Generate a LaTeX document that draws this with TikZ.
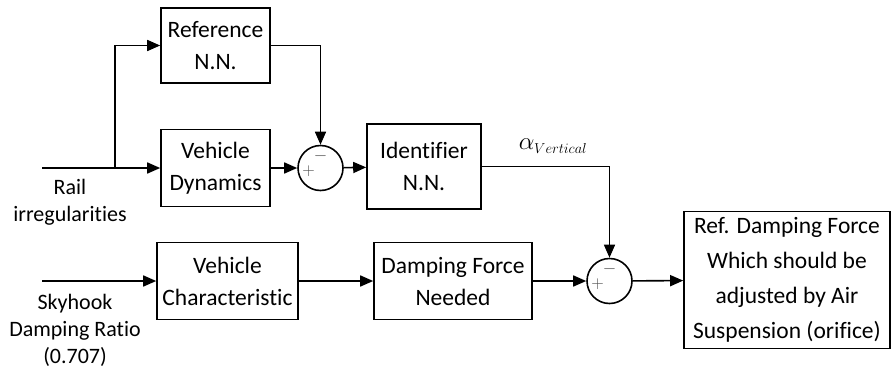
\documentclass[tikz,border=0pt]{standalone}
\usepackage{fontspec}
\setmainfont[Ligatures=NoCommon]{Carlito}
\usepackage{tikz}
\usetikzlibrary{arrows.meta,positioning,calc}

\begin{document}
\begin{tikzpicture}[x=1pt,y=-1pt,line width=1.6pt,>={Triangle[length=13pt,width=11pt]},
  every node/.style={font=\fontsize{23.5}{32}\selectfont}]
\tikzstyle{box}=[draw,rectangle,line width=1.6pt,inner sep=2pt,align=center]
\tikzstyle{sumnode}=[draw,circle,line width=1.6pt,minimum size=45pt,inner sep=0pt]
\tikzstyle{sign}=[text=black!70,inner sep=0pt,font=\fontsize{17}{17}\selectfont]
\tikzstyle{lbl}=[align=center,inner sep=0pt,font=\fontsize{22}{27}\selectfont]
\useasboundingbox (0,0) rectangle (893,367);

% upper branch
\node[box,minimum width=109pt,minimum height=75pt] (refnn) at (215.5,45.5) {Reference\\N.N.};
\node[box,minimum width=109pt,minimum height=77pt] (vdyn) at (215.5,168) {Vehicle\\Dynamics};
\node[sumnode] (sum1) at (320.5,168) {};
\node[sign] (sum1m) at ($(sum1)+(0,-12)$) {$-$};
\node[sign] (sum1p) at ($(sum1)+(-12,3)$) {$+$};
\node[box,minimum width=114pt,minimum height=85pt] (ident) at (424,166.5) {Identifier\\N.N.};

% lower branch
\node[box,minimum width=141pt,minimum height=77pt] (vchar) at (227.5,281) {Vehicle\\Characteristic};
\node[box,minimum width=158pt,minimum height=77pt] (dfn) at (453,281) {Damping Force\\Needed};
\node[sumnode] (sum2) at (609.5,281) {};
\node[sign] (sum2m) at ($(sum2)+(0,-12)$) {$-$};
\node[sign] (sum2p) at ($(sum2)+(-12,3)$) {$+$};
\node[box,minimum width=206pt,minimum height=137pt,font=\fontsize{23.5}{35}\selectfont] (refdf) at (787,280)
  {Ref. Damping Force\\Which should be\\adjusted by Air\\Suspension (orifice)};

% inputs and labels
\coordinate (rail) at (42,168);
\coordinate (br) at (115,168);
\coordinate (sky) at (42,281);
\node[lbl] (raillbl) at (70,202) {Rail\\irregularities};
\node[lbl] (skylbl) at (75,330) {Skyhook\\Damping Ratio\\(0.707)};
\node[inner sep=0pt,font=\fontsize{31}{31}\selectfont] (alpha) at (553,146) {$\alpha_{\scriptscriptstyle Vertical}$};

\draw[->] (rail) -- (vdyn);
\draw[->] (br) |- (refnn.west);
\draw[->] (refnn.east) -| (sum1.north);
\draw[->] (vdyn) -- (sum1);
\draw[->] (sum1) -- (ident);
\draw[->] (ident.east) -| (sum2.north);
\draw[->] (sky) -- (vchar);
\draw[->] (vchar) -- (dfn);
\draw[->] (dfn) -- (sum2);
\draw[->] (sum2) -- (refdf);
\end{tikzpicture}
\end{document}
